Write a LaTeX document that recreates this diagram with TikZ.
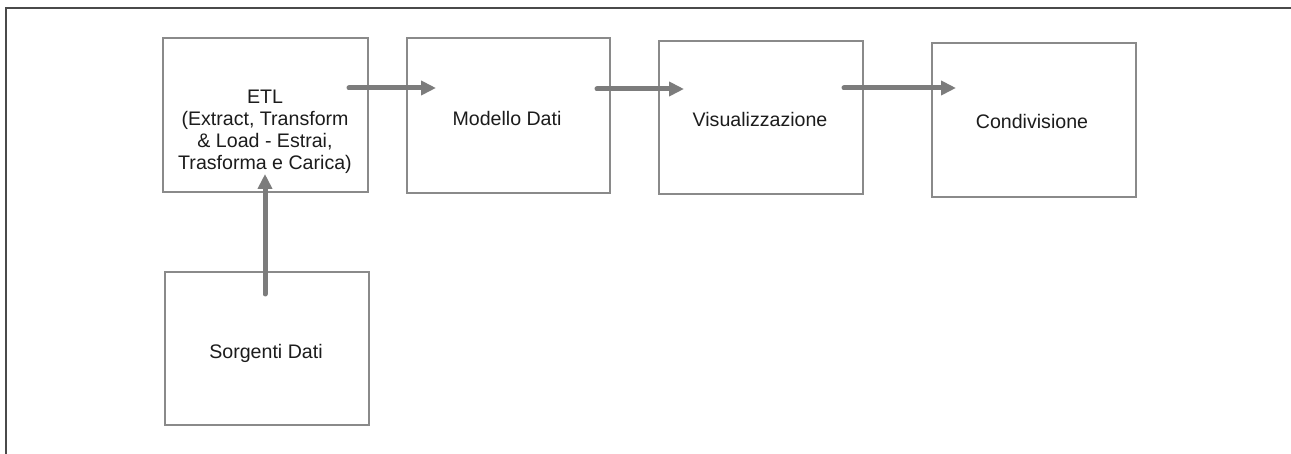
\documentclass[tikz,border=0pt]{standalone}
\usepackage{fontspec}
\setmainfont{Liberation Sans}
\usetikzlibrary{arrows.meta}
\definecolor{boxgray}{HTML}{8A8A8A}
\definecolor{flowgray}{HTML}{7C7C7C}
\definecolor{framegray}{HTML}{4A4A4A}
\definecolor{ink}{HTML}{1C1C1C}
\tikzset{
  stage/.style={draw=boxgray, line width=2pt, fill=white},
  caption/.style={text=ink, font=\fontsize{19.6}{22.3}\selectfont, inner sep=0pt, anchor=base, align=center},
  flow/.style={draw=flowgray, line width=5pt, line cap=round,
    -{Triangle[length=15pt,width=14pt]}},
}
\begin{document}
\begin{tikzpicture}[x=1pt,y=-1pt]
  \useasboundingbox (0,0) rectangle (1291,454);
  % page frame: top and left rules only
  \draw[framegray, line width=2pt] (1291,8) -- (6,8) -- (6,454);

  % stage boxes
  \path[stage] (163,38) rectangle (368,192);
  \node[inner sep=0pt] (etl) at (265.5,115) {};
  \path[stage] (407,38) rectangle (610,193);
  \node[inner sep=0pt] (model) at (508.5,115.5) {};
  \path[stage] (659,41) rectangle (863,194);
  \node[inner sep=0pt] (vis) at (761,117.5) {};
  \path[stage] (932,43) rectangle (1136,197);
  \node[inner sep=0pt] (share) at (1034,120) {};
  \path[stage] (165,272) rectangle (369,425);
  \node[inner sep=0pt] (src) at (267,348.5) {};

  % captions
  \node[caption] (etlText) at (265,170) {ETL\\(Extract, Transform\\\& Load - Estrai,\\Trasforma e Carica)};
  \node[caption] (modelText) at (507,126) {Modello Dati};
  \node[caption] (visText) at (760,127) {Visualizzazione};
  \node[caption] (shareText) at (1032,129) {Condivisione};
  \node[caption] (srcText) at (266,359) {Sorgenti Dati};

  % connector end points
  \coordinate (a1s) at (349,88);
  \coordinate (a1e) at (436,88);
  \coordinate (a2s) at (597,89);
  \coordinate (a2e) at (684,89);
  \coordinate (a3s) at (844,88);
  \coordinate (a3e) at (956,88);
  \coordinate (a4s) at (265,294);
  \coordinate (a4e) at (265,174);

  % flow arrows
  \draw[flow] (a1s) -- (a1e);
  \draw[flow] (a2s) -- (a2e);
  \draw[flow] (a3s) -- (a3e);
  \draw[flow] (a4s) -- (a4e);
\end{tikzpicture}
\end{document}
